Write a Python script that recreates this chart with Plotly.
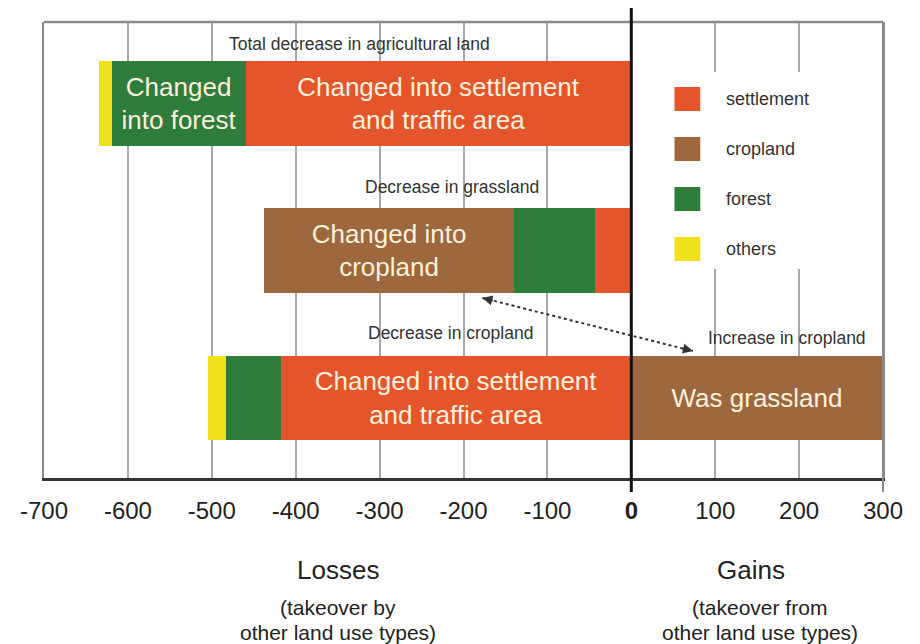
import plotly.graph_objects as go

# ---- data ----
categories = ["cropland", "grassland", "agricultural land"]   # bottom -> top
ypos = [0, 1, 2]
settlement = [-417, -43, -459]
forest = [-66, -97, -160]
cropland = [300, -298, None]
others = [-21, None, -15]

settlement_text = ["Changed into settlement<br>and traffic area", "", "Changed into settlement<br>and traffic area"]
forest_text = ["", "", "Changed<br>into forest"]
cropland_text = ["Was grassland", "Changed into<br>cropland", ""]

tick_vals = [-700, -600, -500, -400, -300, -200, -100, 0, 100, 200, 300]
tick_text = ["-700", "-600", "-500", "-400", "-300", "-200", "-100", "<b>0</b>", "100", "200", "300"]

legend_names = ["settlement", "cropland", "forest", "others"]

# ---- style ----
C_SET = "#E5552B"
C_CROP = "#9D683D"
C_FOR = "#2F7D3B"
C_OTH = "#F1E11B"
FONT = "Liberation Sans, Arial, sans-serif"
TXT_IN = dict(family=FONT, size=26, color="#FBF1DD")

# page body has an 8px margin -> figure drawn at (8, 8)
OFF = 8
W, H = 920 - OFF, 644 - OFF
PL, PR, PT, PB = 38, 883, 22, 478      # plot area in page pixels
L, T = PL - OFF, PT - OFF
R = W - (PR - OFF)
B = H - (PB - OFF)
PW, PH = PR - PL, PB - PT


def px(xp):
    return (xp - PL) / PW


def py(yp):
    return (PB - yp) / PH


fig = go.Figure()


def add_bar(vals, color, name, text=None):
    fig.add_trace(go.Bar(
        y=ypos, x=vals, orientation="h", name=name,
        marker=dict(color=color, line=dict(width=0)),
        width=0.575,
        text=text, textposition="inside" if text else "none",
        insidetextanchor="middle", textangle=0,
        insidetextfont=TXT_IN, constraintext="none",
        showlegend=False, hoverinfo="x+name",
    ))


add_bar(settlement, C_SET, "settlement", settlement_text)
add_bar(forest, C_FOR, "forest", forest_text)
add_bar(cropland, C_CROP, "cropland", cropland_text)
add_bar(others, C_OTH, "others")

shapes = []
annotations = []

# borders
shapes.append(dict(type="line", xref="paper", yref="paper", x0=0, x1=1, y0=1, y1=1,
                   line=dict(color="#8a8a8a", width=2.5), layer="above"))
shapes.append(dict(type="line", xref="paper", yref="paper", x0=1, x1=1, y0=py(492), y1=1,
                   line=dict(color="#8a8a8a", width=2), layer="above"))

# legend white box
shapes.append(dict(type="rect", xref="paper", yref="paper",
                   x0=px(648), x1=px(868), y0=py(269), y1=py(72),
                   fillcolor="white", line=dict(width=0), layer="above"))
leg_colors = [C_SET, C_CROP, C_FOR, C_OTH]
leg_centers = [99, 149, 199, 249]
for name, col, cy in zip(legend_names, leg_colors, leg_centers):
    shapes.append(dict(type="rect", xref="paper", yref="paper",
                       x0=px(673), x1=px(699), y0=py(cy + 12), y1=py(cy - 12),
                       fillcolor=col, line=dict(width=0), layer="above"))
    annotations.append(dict(xref="paper", yref="paper", x=px(723), y=py(cy),
                            text=name, showarrow=False, xanchor="left", yanchor="middle",
                            font=dict(family=FONT, size=18, color="#333333")))

# zero line
shapes.append(dict(type="line", xref="x", yref="paper", x0=0, x1=0, y0=py(492), y1=py(8),
                   line=dict(color="#111111", width=3), layer="above"))

# dashed double arrow
ax0, ay0 = -177.5, 0.679
ax1, ay1 = 73.4, 0.318
shapes.append(dict(type="line", xref="x", yref="y", x0=ax0, y0=ay0, x1=ax1, y1=ay1,
                   line=dict(color="#333333", width=2, dash="3px,3px"), layer="above"))
annotations.append(dict(x=ax0, y=ay0, xref="x", yref="y", ax=12, ay=3, text="",
                        showarrow=True, arrowhead=2, arrowsize=1, arrowwidth=2, arrowcolor="#333333"))
annotations.append(dict(x=ax1, y=ay1, xref="x", yref="y", ax=-12, ay=-3, text="",
                        showarrow=True, arrowhead=2, arrowsize=1, arrowwidth=2, arrowcolor="#333333"))

# bar captions
cap_font = dict(family=FONT, size=17.5, color="#333333")
for txt, x, y in [("Total decrease in agricultural land", -324, 2.405),
                  ("Decrease in grassland", -214, 1.433),
                  ("Decrease in cropland", -215, 0.441),
                  ("Increase in cropland", 185, 0.407)]:
    annotations.append(dict(x=x, y=y, xref="x", yref="y", text=txt, showarrow=False,
                            xanchor="center", yanchor="middle", font=cap_font))

# bottom texts
big = dict(family=FONT, size=26, color="#222222")
small = dict(family=FONT, size=21, color="#222222")
for txt, x, yp, f in [("Losses", -350, 570, big),
                      ("(takeover by", -350, 607, small),
                      ("other land use types)", -350, 632, small),
                      ("Gains", 143, 570, big),
                      ("(takeover from", 153, 607, small),
                      ("other land use types)", 153, 632, small)]:
    annotations.append(dict(x=x, y=py(yp), xref="x", yref="paper", text=txt, showarrow=False,
                            xanchor="center", yanchor="middle", font=f))

fig.update_layout(
    width=W, height=H,
    margin=dict(l=L, r=R, t=T, b=B, pad=0),
    paper_bgcolor="white", plot_bgcolor="white",
    barmode="relative", bargap=0,
    showlegend=False,
    font=dict(family=FONT),
    shapes=shapes, annotations=annotations,
    xaxis=dict(range=[-700, 300], tickvals=tick_vals, ticktext=tick_text,
               showgrid=True, gridcolor="#a8a8a8", gridwidth=1.5,
               zeroline=False, showline=True, linecolor="#333333", linewidth=2.5,
               ticks="", ticklabelstandoff=9,
               tickfont=dict(family=FONT, size=24, color="#222222")),
    yaxis=dict(range=[-0.545, 2.555], showgrid=False, zeroline=False,
               showticklabels=False, ticks="",
               showline=True, linecolor="#8a8a8a", linewidth=2, mirror=True),
)

fig.write_html("out.html")
